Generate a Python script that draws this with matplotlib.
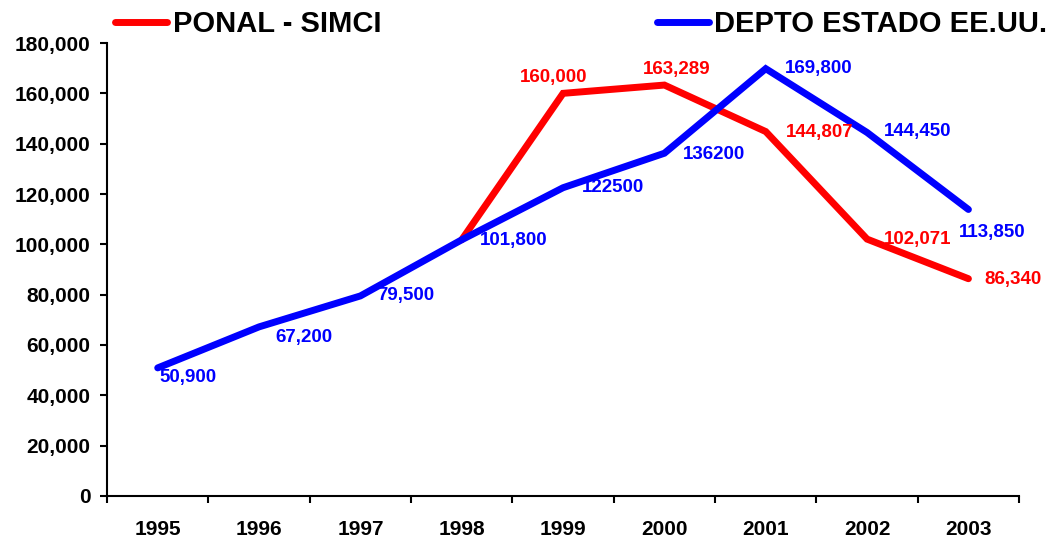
import numpy as np
import matplotlib.pyplot as plt
from matplotlib.ticker import FuncFormatter, FixedLocator

years = ['1995', '1996', '1997', '1998', '1999', '2000', '2001', '2002', '2003']
ponal = [np.nan, np.nan, np.nan, 101800, 160000, 163289, 144807, 102071, 86340]
depto = [50900, 67200, 79500, 101800, 122500, 136200, 169800, 144450, 113850]
ponal_labels = [None, None, None, None, '160,000', '163,289', '144,807', '102,071', '86,340']
depto_labels = ['50,900', '67,200', '79,500', '101,800', '122500', '136200', '169,800', '144,450', '113,850']

# label offsets in pixels (dx, dy, ha)
ponal_off = [None, None, None, None, (-9, 16, 'center'), (12, 16, 'center'),
             (20, -1, 'left'), (17, 0, 'left'), (16, -1, 'left')]
depto_off = [(2, -10, 'left'), (16, -11, 'left'), (17, 0, 'left'), (18, -1, 'left'),
             (19, 0, 'left'), (18, -1, 'left'), (19, 0, 'left'), (17, 1, 'left'),
             (-10, -23, 'left')]

plt.rcParams['font.family'] = ['Liberation Sans', 'DejaVu Sans']
plt.rcParams['font.weight'] = 'bold'

fig = plt.figure(figsize=(10.63, 5.41), dpi=100)
ax = fig.add_axes([0.1007, 0.0832, 0.858, 0.8373])

x = np.arange(len(years))
red = '#FF0000'
blue = '#0000FF'
l1, = ax.plot(x, ponal, color=red, lw=5, solid_capstyle='round', solid_joinstyle='miter',
              label='PONAL - SIMCI', zorder=2)
l2, = ax.plot(x, depto, color=blue, lw=5, solid_capstyle='round', solid_joinstyle='miter',
              label='DEPTO ESTADO EE.UU.', zorder=3)

for i, lab in enumerate(ponal_labels):
    if lab is None:
        continue
    dx, dy, ha = ponal_off[i]
    ax.annotate(lab, (x[i], ponal[i]), xytext=(dx, dy), textcoords='offset pixels',
                ha=ha, va='center', color=red, fontsize=13.5, fontweight='bold', zorder=4)
for i, lab in enumerate(depto_labels):
    dx, dy, ha = depto_off[i]
    ax.annotate(lab, (x[i], depto[i]), xytext=(dx, dy), textcoords='offset pixels',
                ha=ha, va='center', color=blue, fontsize=13.5, fontweight='bold', zorder=4)

ax.set_xlim(-0.5, len(years) - 0.5)
ax.set_ylim(0, 180000)
ax.set_yticks(np.arange(0, 180001, 20000))
ax.yaxis.set_major_formatter(FuncFormatter(lambda v, p: f'{int(v):,}'))

ax.xaxis.set_major_locator(FixedLocator(np.arange(-0.5, len(years), 1.0)))
ax.xaxis.set_minor_locator(FixedLocator(x))
ax.set_xticklabels([''] * len(ax.get_xticks()))
ax.set_xticklabels(years, minor=True)
ax.tick_params(axis='x', which='major', direction='out', length=5, width=1.5)
ax.tick_params(axis='x', which='minor', length=0, pad=17, labelsize=15)
ax.tick_params(axis='y', direction='out', length=5, width=1.5, labelsize=15, pad=7)
for lbl in ax.get_xticklabels(minor=True) + ax.get_yticklabels():
    lbl.set_fontweight('bold')

for s in ['top', 'right']:
    ax.spines[s].set_visible(False)
for s in ['left', 'bottom']:
    ax.spines[s].set_linewidth(1.5)

leg = fig.legend(handles=[l1, l2], loc='center left', bbox_to_anchor=(0.108, 0.955),
                 ncol=2, frameon=False, fontsize=21, handlelength=1.78,
                 handletextpad=0.2, columnspacing=9.45, borderpad=0, borderaxespad=0)
for t in leg.get_texts():
    t.set_fontweight('bold')

fig.savefig('out.png', dpi=100)
